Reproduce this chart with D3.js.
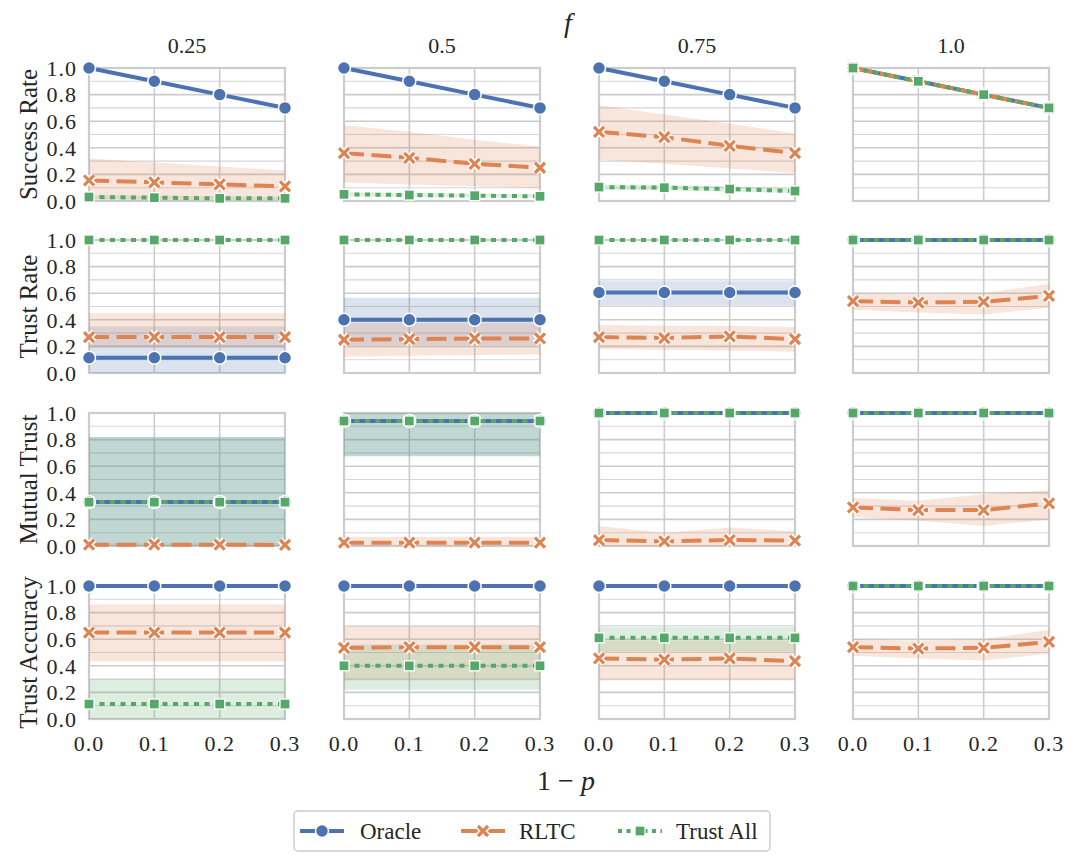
<!DOCTYPE html>
<html>
<head>
<meta charset="utf-8">
<script src="https://cdn.jsdelivr.net/npm/d3@7"></script>
<style>
  body { margin: 0; background: #fff; }
  svg { font-family: "Liberation Serif", "DejaVu Serif", serif; }
</style>
</head>
<body>
<svg width="1072" height="854"></svg>
<script>
// x values (1 - p), facet columns (f), rows (metrics)
const pVals = [0.0, 0.1, 0.2, 0.3];
const fLabels = ['0.25', '0.5', '0.75', '1.0'];
const metrics = ['Success Rate', 'Trust Rate', 'Mutual Trust', 'Trust Accuracy'];
const methods = ['Oracle', 'RLTC', 'Trust All'];
const xTicks = [0.0, 0.1, 0.2, 0.3];
const yTicks = [0.0, 0.2, 0.4, 0.6, 0.8, 1.0];

// each array: one row per f column, one value per 1-p
// Success Rate
const successOracle = [[1, .9, .8, .7], [1, .9, .8, .7], [1, .9, .8, .7], [1, .9, .8, .7]];
const successRltc = [[.155, .14, .125, .11], [.36, .325, .28, .25], [.52, .48, .415, .36], [1, .9, .8, .7]];
const successRltcLo = [[.005, .005, .005, .005], [.14, .125, .11, .095], [.31, .28, .245, .21], [1, .9, .8, .7]];
const successRltcHi = [[.32, .29, .26, .23], [.57, .52, .46, .41], [.72, .65, .58, .51], [1, .9, .8, .7]];
const successAll = [[.03, .025, .02, .02], [.05, .045, .04, .035], [.105, .1, .09, .075], [1, .9, .8, .7]];
const successAllLo = [[.015, .012, .01, .01], [.035, .03, .028, .025], [.085, .08, .07, .06], [1, .9, .8, .7]];
const successAllHi = [[.045, .04, .035, .03], [.065, .06, .055, .05], [.125, .12, .11, .095], [1, .9, .8, .7]];

// Trust Rate
const trustOracle = [[.115, .115, .115, .115], [.4, .4, .4, .4], [.605, .605, .605, .605], [1, 1, 1, 1]];
const trustOracleLo = [[0, 0, 0, 0], [.21, .21, .21, .21], [.505, .505, .505, .505], [1, 1, 1, 1]];
const trustOracleHi = [[.35, .35, .35, .35], [.565, .565, .565, .565], [.69, .69, .69, .69], [1, 1, 1, 1]];
const trustRltc = [[.27, .27, .27, .27], [.25, .255, .26, .26], [.27, .263, .275, .255], [.54, .53, .535, .58]];
const trustRltcLo = [[.19, .19, .19, .19], [.125, .13, .135, .14], [.18, .175, .17, .16], [.475, .455, .44, .49]];
const trustRltcHi = [[.45, .45, .45, .45], [.375, .375, .375, .375], [.36, .355, .355, .345], [.6, .59, .6, .67]];
const trustAll = [[1, 1, 1, 1], [1, 1, 1, 1], [1, 1, 1, 1], [1, 1, 1, 1]];

// Mutual Trust
const mutualOracle = [[.33, .33, .33, .33], [.94, .94, .94, .94], [1, 1, 1, 1], [1, 1, 1, 1]];
const mutualOracleLo = [[0, 0, 0, 0], [.675, .675, .675, .675], [1, 1, 1, 1], [1, 1, 1, 1]];
const mutualOracleHi = [[.82, .82, .82, .82], [1, 1, 1, 1], [1, 1, 1, 1], [1, 1, 1, 1]];
const mutualRltc = [[.01, .01, .01, .008], [.025, .025, .025, .025], [.045, .035, .045, .04], [.29, .27, .27, .32]];
const mutualRltcLo = [[0, 0, 0, 0], [0, 0, 0, 0], [0, 0, 0, 0], [.22, .19, .15, .2]];
const mutualRltcHi = [[.02, .02, .02, .02], [.07, .07, .07, .07], [.15, .1, .14, .11], [.36, .34, .39, .42]];
const mutualAll = [[.33, .33, .33, .33], [.94, .94, .94, .94], [1, 1, 1, 1], [1, 1, 1, 1]];
const mutualAllLo = [[0, 0, 0, 0], [.675, .675, .675, .675], [1, 1, 1, 1], [1, 1, 1, 1]];
const mutualAllHi = [[.82, .82, .82, .82], [1, 1, 1, 1], [1, 1, 1, 1], [1, 1, 1, 1]];

// Trust Accuracy
const accOracle = [[1, 1, 1, 1], [1, 1, 1, 1], [1, 1, 1, 1], [1, 1, 1, 1]];
const accRltc = [[.65, .65, .65, .65], [.535, .54, .54, .54], [.455, .447, .455, .435], [.54, .53, .535, .58]];
const accRltcLo = [[.435, .435, .435, .435], [.29, .29, .29, .29], [.29, .29, .29, .29], [.475, .455, .44, .49]];
const accRltcHi = [[.86, .86, .86, .86], [.7, .7, .7, .7], [.59, .59, .59, .59], [.6, .59, .6, .67]];
const accAll = [[.1125, .1125, .1125, .1125], [.4, .4, .4, .4], [.61, .61, .61, .61], [1, 1, 1, 1]];
const accAllLo = [[0, 0, 0, 0], [.22, .22, .22, .22], [.505, .505, .505, .505], [1, 1, 1, 1]];
const accAllHi = [[.3, .3, .3, .3], [.56, .56, .56, .56], [.69, .69, .69, .69], [1, 1, 1, 1]];

// [row][method] -> {mean, lo, hi}
const series = [
  [{mean: successOracle}, {mean: successRltc, lo: successRltcLo, hi: successRltcHi}, {mean: successAll, lo: successAllLo, hi: successAllHi}],
  [{mean: trustOracle, lo: trustOracleLo, hi: trustOracleHi}, {mean: trustRltc, lo: trustRltcLo, hi: trustRltcHi}, {mean: trustAll}],
  [{mean: mutualOracle, lo: mutualOracleLo, hi: mutualOracleHi}, {mean: mutualRltc, lo: mutualRltcLo, hi: mutualRltcHi}, {mean: mutualAll, lo: mutualAllLo, hi: mutualAllHi}],
  [{mean: accOracle}, {mean: accRltc, lo: accRltcLo, hi: accRltcHi}, {mean: accAll, lo: accAllLo, hi: accAllHi}]
];

const colors = ['#4C72B0', '#DD8452', '#55A868'];
const dashes = [null, '20,7.5', '5,5.5'];
const ink = '#262626';

const svg = d3.select('svg');
const colX = [89, 344, 599, 853];
const rowY = [68, 240, 413, 586];
const pw = 196, ph = 133;

const x = d3.scaleLinear().domain([0, 0.3]).range([0, pw]);
const y = d3.scaleLinear().domain([0, 1]).range([ph, 0]);

// marker drawers
function drawMarker(g, k, cx, cy) {
  if (k === 0) {
    g.append('circle').attr('cx', cx).attr('cy', cy).attr('r', 6.5)
      .attr('fill', colors[0]).attr('stroke', '#fff').attr('stroke-width', 1.5);
  } else if (k === 1) {
    const s = 5;
    const d = `M${cx - s},${cy - s}L${cx + s},${cy + s}M${cx - s},${cy + s}L${cx + s},${cy - s}`;
    g.append('path').attr('d', d).attr('stroke', '#fff').attr('stroke-width', 6.5).attr('fill', 'none');
    g.append('path').attr('d', d).attr('stroke', colors[1]).attr('stroke-width', 3.2).attr('fill', 'none');
  } else {
    g.append('rect').attr('x', cx - 5).attr('y', cy - 5).attr('width', 10).attr('height', 10)
      .attr('fill', colors[2]).attr('stroke', '#fff').attr('stroke-width', 1.3);
  }
}

const line = d3.line().x(d => x(d[0])).y(d => y(d[1]));
const area = d3.area().x(d => x(d[0])).y0(d => y(d[1])).y1(d => y(d[2]));

metrics.forEach((metric, r) => {
  fLabels.forEach((fl, c) => {
    const g = svg.append('g').attr('transform', `translate(${colX[c]},${rowY[r]})`);

    // grid: minor then major horizontals, verticals
    g.selectAll('.minor').data(d3.range(0.1, 1, 0.2)).enter().append('line')
      .attr('x1', 0).attr('x2', pw).attr('y1', d => y(d)).attr('y2', d => y(d))
      .attr('stroke', '#d6d6d6').attr('stroke-width', 1.1);
    g.selectAll('.major').data(yTicks).enter().append('line')
      .attr('x1', 0).attr('x2', pw).attr('y1', d => y(d)).attr('y2', d => y(d))
      .attr('stroke', '#cccccc').attr('stroke-width', 1.6);
    g.selectAll('.vgrid').data(xTicks).enter().append('line')
      .attr('y1', 0).attr('y2', ph).attr('x1', d => x(d)).attr('x2', d => x(d))
      .attr('stroke', '#cccccc').attr('stroke-width', 1.6);
    g.append('rect').attr('x', 0).attr('y', 0).attr('width', pw).attr('height', ph)
      .attr('fill', 'none').attr('stroke', '#cccccc').attr('stroke-width', 2.2);

    // bands
    series[r].forEach((s, k) => {
      if (!s.lo) return;
      const pts = pVals.map((p, i) => [p, s.lo[c][i], s.hi[c][i]]);
      g.append('path').attr('d', area(pts)).attr('fill', colors[k]).attr('fill-opacity', 0.2);
    });

    // lines + markers
    series[r].forEach((s, k) => {
      const pts = pVals.map((p, i) => [p, s.mean[c][i]]);
      const path = g.append('path').attr('d', line(pts)).attr('fill', 'none')
        .attr('stroke', colors[k]).attr('stroke-width', 4);
      if (dashes[k]) path.attr('stroke-dasharray', dashes[k]);
      pts.forEach(pt => drawMarker(g, k, x(pt[0]), y(pt[1])));
    });

    // y tick labels on first column
    if (c === 0) {
      g.selectAll('.yt').data(yTicks).enter().append('text')
        .attr('x', -12).attr('y', d => y(d)).attr('dy', '0.35em')
        .attr('text-anchor', 'end').attr('font-size', 22).attr('letter-spacing', 1)
        .attr('fill', ink).text(d => d.toFixed(1));
      svg.append('text')
        .attr('transform', `translate(28,${rowY[r] + ph / 2}) rotate(-90)`)
        .attr('text-anchor', 'middle').attr('dy', '0.35em')
        .attr('font-size', 25).attr('fill', ink).text(metric);
    }
    // x tick labels on last row
    if (r === 3) {
      g.selectAll('.xt').data(xTicks).enter().append('text')
        .attr('x', d => x(d)).attr('y', ph + 24).attr('dy', '0.35em')
        .attr('text-anchor', 'middle').attr('font-size', 22).attr('letter-spacing', 1)
        .attr('fill', ink).text(d => d.toFixed(1));
    }
    // column titles
    if (r === 0) {
      g.append('text').attr('x', pw / 2).attr('y', -23).attr('dy', '0.35em')
        .attr('text-anchor', 'middle').attr('font-size', 22).attr('fill', ink).text(fl);
    }
  });
});

// super titles
svg.append('text').attr('x', 568).attr('y', 22).attr('dy', '0.35em')
  .attr('text-anchor', 'middle').attr('font-size', 28).attr('font-style', 'italic')
  .attr('fill', ink).text('f');
const xl = svg.append('text').attr('x', 566).attr('y', 780).attr('dy', '0.35em')
  .attr('text-anchor', 'middle').attr('font-size', 28).attr('fill', ink);
xl.append('tspan').text('1 − ');
xl.append('tspan').attr('font-style', 'italic').text('p');

// legend
const leg = svg.append('g');
leg.append('rect').attr('x', 294).attr('y', 811).attr('width', 476).attr('height', 40)
  .attr('rx', 4).attr('fill', '#fff').attr('stroke', '#cccccc').attr('stroke-width', 1.5);
const legX = [300, 461, 618];
const legTextX = [360, 519, 676];
methods.forEach((m, k) => {
  const ly = 831;
  const l = leg.append('line').attr('x1', legX[k]).attr('x2', legX[k] + 44)
    .attr('y1', ly).attr('y2', ly).attr('stroke', colors[k]).attr('stroke-width', 4);
  if (k === 2) l.attr('stroke-dasharray', '4,4.5');
  drawMarker(leg, k, legX[k] + 22, ly);
  leg.append('text').attr('x', legTextX[k]).attr('y', ly).attr('dy', '0.35em')
    .attr('font-size', 23).attr('fill', ink).text(m);
});
</script>
</body>
</html>
